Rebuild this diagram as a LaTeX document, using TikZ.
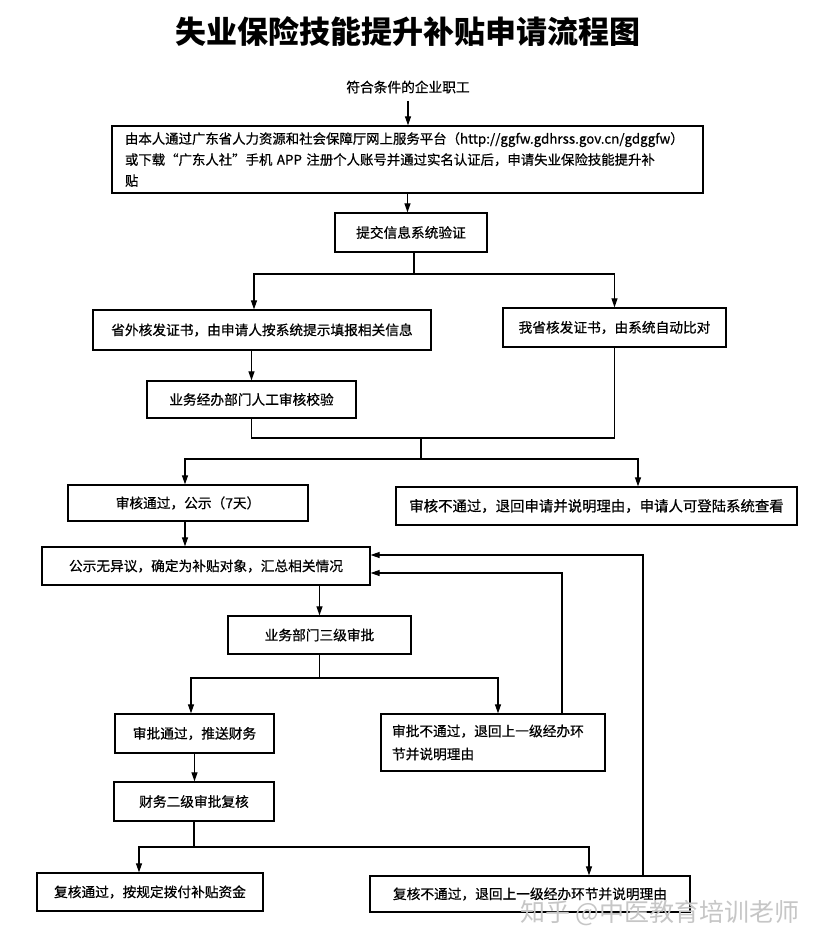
\documentclass[tikz,border=0pt]{standalone}
\usepackage{fontspec}
\setmainfont{Noto Sans CJK SC}
\newfontfamily\boxfont[FakeBold=0.6]{Noto Sans CJK SC}
\usetikzlibrary{arrows.meta,calc}
\begin{document}
\begin{tikzpicture}[x=1pt,y=-1pt,
  box/.style={draw,line width=1.3pt,inner sep=0pt,font=\boxfont\fontsize{13.7}{21}\selectfont},
  arr/.style={line width=1.1pt,-{Triangle[length=9pt,width=6pt]}},
  ln/.style={line width=1.1pt}]
\useasboundingbox[fill=white] (0,0) rectangle (816,946);
\node (title) at (408,32) {\fontsize{31}{36}\selectfont\bfseries 失业保险技能提升补贴申请流程图};
\node[font=\boxfont\fontsize{13.7}{16}\selectfont] (t0) at (408,87) {符合条件的企业职工};
\node[box,minimum width=591pt,minimum height=67pt,text width=565pt,align=left,font=\boxfont\fontsize{13.4}{21}\selectfont] (b1) at (407.5,159.5)
  {由本人通过广东省人力资源和社会保障厅网上服务平台（http://ggfw.gdhrss.gov.cn/gdggfw）\\或下载“广东人社”手机 APP 注册个人账号并通过实名认证后，申请失业保险技能提升补\\贴};
\node[box,minimum width=152pt,minimum height=39pt] (b2) at (411,232.5) {提交信息系统验证};
\node[box,minimum width=338pt,minimum height=40pt] (b3) at (262,330) {省外核发证书，由申请人按系统提示填报相关信息};
\node[box,minimum width=223pt,minimum height=39pt] (b4) at (614.5,327.5) {我省核发证书，由系统自动比对};
\node[box,minimum width=209pt,minimum height=37pt] (b5) at (251.5,399.5) {业务经办部门人工审核校验};
\node[box,minimum width=240pt,minimum height=36pt] (b7) at (188,503) {审核通过，公示（7天）};
\node[box,minimum width=401pt,minimum height=38pt,font=\boxfont\fontsize{14.4}{21}\selectfont] (b8) at (596.5,506) {审核不通过，退回申请并说明理由，申请人可登陆系统查看};
\node[box,minimum width=328pt,minimum height=38pt] (b9) at (206,566) {公示无异议，确定为补贴对象，汇总相关情况};
\node[box,minimum width=183pt,minimum height=38pt] (b10) at (319.5,635) {业务部门三级审批};
\node[box,minimum width=159pt,minimum height=39pt] (b12) at (194.5,733.5) {审批通过，推送财务};
\node[box,minimum width=224pt,minimum height=57pt,text width=202pt,align=left,font=\boxfont\fontsize{13.7}{23}\selectfont] (b13) at (493,742.5) {审批不通过，退回上一级经办环\\节并说明理由};
\node[box,minimum width=160pt,minimum height=39pt] (b14) at (194,801.5) {财务二级审批复核};
\node[box,minimum width=226pt,minimum height=38pt] (b16) at (150,892) {复核通过，按规定拨付补贴资金};
\node[box,minimum width=320pt,minimum height=36pt] (b17) at (530,894) {复核不通过，退回上一级经办环节并说明理由};
\node[text=gray!45,font=\fontsize{25}{30}\selectfont] (wm) at (660,913) {知乎 @中医教育培训老师};
% connectors
\draw[arr] ([yshift=-4pt]t0.south) -- (t0.south |- b1.north);
\draw[arr] (b1.south) -- (b1.south |- b2.north);
\coordinate (j1) at (414,274);
\draw[ln] (b2.south -| j1) -- (j1);
\draw[arr] (j1) -| ([xshift=-8pt]b3.north);
\draw[arr] (j1) -| (b4.north);
\draw[arr] (b5.north |- b3.south) -- (b5.north);
\coordinate (j2) at (421,438);
\draw[ln] (b5.south) |- (b4.south |- j2) -- (b4.south);
\coordinate (j3) at (421,459);
\draw[ln] (j2) -- (j3);
\draw[arr] (j3) -| ([xshift=-3pt]b7.north);
\draw[arr] (j3) -| ([xshift=41.5pt]b8.north);
\draw[arr] ([xshift=-3pt]b7.south) -- ([xshift=-3pt]b7.south |- b9.north);
\draw[arr] (b10.north |- b9.south) -- (b10.north);
\coordinate (j4) at (319.5,678);
\draw[ln] (b10.south) -- (j4);
\draw[arr] (j4) -| ([xshift=-3.5pt]b12.north);
\draw[arr] (j4) -| ([xshift=5pt]b13.north);
\draw[arr] (b12.south) -- (b12.south |- b14.north);
\coordinate (j5) at (194,847);
\draw[ln] (b14.south) -- (j5);
\draw[arr] (j5) -| ([xshift=-11pt]b16.north);
\draw[arr] (j5) -| ([xshift=59pt]b17.north);
\draw[arr] ([xshift=69pt]b13.north) |- ([yshift=-7pt]b9.east);
\draw[arr] ([xshift=113pt]b17.north) |- ([yshift=11pt]b9.east);
\end{tikzpicture}
\end{document}
